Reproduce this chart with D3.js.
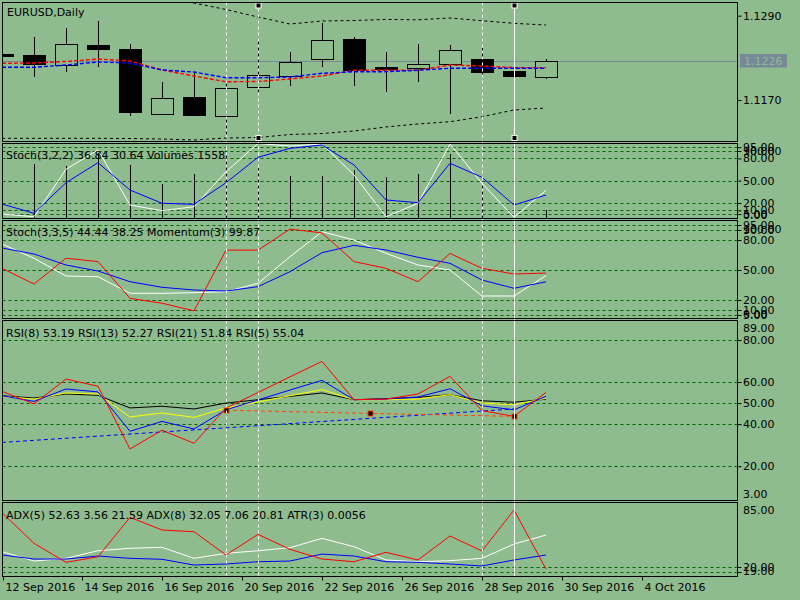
<!DOCTYPE html>
<html>
<head>
<meta charset="utf-8">
<script src="https://cdn.jsdelivr.net/npm/d3@7/dist/d3.min.js"></script>
<style>
  body { margin: 0; background: #8fbc8f; }
  svg text { font-family: "DejaVu Sans", sans-serif; font-size: 11px; }
</style>
</head>
<body>
<svg width="800" height="600"></svg>
<script>
// ---- EURUSD daily candles (one entry per bar) ----
const opens = [1.1236, 1.1234, 1.12194, 1.12483, 1.12426, 1.11505, 1.11743, 1.11477, 1.11881, 1.12046, 1.12273, 1.12568, 1.1217, 1.12145, 1.12202, 1.12283, 1.12117, 1.12032];
const highs = [1.1236, 1.12601, 1.12725, 1.12824, 1.12497, 1.11956, 1.12098, 1.11946, 1.1254, 1.12383, 1.12796, 1.12596, 1.12383, 1.12501, 1.12483, 1.12436, 1.12383, 1.12279];
const lows = [1.1233, 1.12032, 1.12103, 1.12174, 1.11477, 1.11491, 1.11472, 1.11178, 1.11818, 1.11899, 1.12174, 1.11899, 1.11814, 1.1196, 1.11505, 1.12056, 1.11377, 1.11999];
const closes = [1.1233, 1.12208, 1.12497, 1.1243, 1.11534, 1.11728, 1.11491, 1.11871, 1.12051, 1.12241, 1.1255, 1.12127, 1.12145, 1.12208, 1.12407, 1.12103, 1.12042, 1.1226];

// bands and moving averages on the price chart
const bbUpper = [1.1335, 1.1332, 1.1328, 1.1324, 1.1319, 1.1314, 1.1308, 1.12988, 1.12881, 1.12781, 1.12824, 1.12831, 1.12846, 1.12841, 1.12867, 1.12828, 1.12791, 1.12767];
const bbLower = [1.11155, 1.11155, 1.11155, 1.11155, 1.11152, 1.11145, 1.11131, 1.11159, 1.11166, 1.11209, 1.11223, 1.11259, 1.11316, 1.11359, 1.11391, 1.11462, 1.11558, 1.11586];
const maRed = [1.12222, 1.12227, 1.12248, 1.12283, 1.12255, 1.12127, 1.12042, 1.1196, 1.11963, 1.11999, 1.12042, 1.12123, 1.12123, 1.12123, 1.12198, 1.12184, 1.12161, 1.12161];
const maBlue = [1.12165, 1.12165, 1.12198, 1.12241, 1.12227, 1.12127, 1.12098, 1.12017, 1.12017, 1.12027, 1.1208, 1.12103, 1.12103, 1.12123, 1.12151, 1.12151, 1.12151, 1.12151];
const priceTicks = [1.1290, 1.1170];
const lastPrice = 1.1226;

// Stoch(3,2,2) + Volumes
const stochAMain = [5, 1.5, 65.3, 91.3, 17.2, 9.6, 14.9, 62, 100, 96.6, 99.3, 57.6, 1.5, 19.5, 99.3, 46.4, 0.7, 36.84];
const stochASignal = [18.6, 6.1, 47.2, 74.2, 37.4, 19.5, 18.2, 47.2, 81.4, 93.5, 98, 71.1, 24, 20.3, 73.4, 54.5, 17.2, 30.64];
const volumes = [8800, 9700, 9350, 11600, 9520, 6160, 7930, 11290, 8940, 7580, 7580, 8640, 7350, 7930, 11470, 6280, 10410, 1558];

// Stoch(3,3,5) + Momentum(3)
const stochBMain = [76, 61.7, 44, 43.3, 26.7, 26.7, 27.3, 28.3, 36.7, 63.3, 88.3, 80, 66.7, 55, 50, 24, 24, 44.44];
const stochBSignal = [72, 66, 55, 49, 38.3, 32.7, 30, 29, 33.3, 48.3, 67.3, 74.7, 70, 62.7, 56.7, 40, 31.7, 38.25];
const momentum = [99.97, 99.64, 100.18, 100.11, 99.34, 99.24, 99.08, 100.35, 100.35, 100.79, 100.71, 100.11, 99.97, 99.69, 100.28, 99.97, 99.85, 99.87];
const stochLevels = [95, 90, 80, 50, 20, 10, 5];

// RSI(8), RSI(13), RSI(21), RSI(5)
const rsi8 = [53.5, 50.8, 56.7, 55.3, 36.6, 41.3, 37.7, 46.8, 51.5, 56.2, 60.8, 51.6, 51.9, 52.9, 56.8, 48.7, 46.8, 53.19];
const rsi13 = [53.2, 51.9, 54.8, 54.3, 43.4, 45.3, 43.2, 47.7, 50.5, 53.5, 56.4, 51.6, 51.6, 51.9, 54, 50, 49.2, 52.27];
const rsi21 = [53.5, 52.4, 54.3, 53.7, 47.7, 48.5, 47.2, 50, 51.6, 53.2, 54.8, 51.6, 52.1, 52.7, 54, 51.1, 50.4, 51.84];
const rsi5 = [55.6, 49.6, 61.4, 58, 28.2, 37.1, 30.9, 47.7, 55, 62.5, 69.8, 51.6, 51.9, 54.3, 62.7, 46.4, 43.7, 55.04];
const rsiLevels = [80, 60, 50, 40, 20];

// ADX panel lines
const adxRed = [81.9, 46.8, 25, 31.4, 76.6, 62.1, 60.1, 33.4, 57.1, 39.9, 28.8, 25.7, 36.5, 27.7, 55.2, 38, 85, 17.3];
const adxWhite = [37.2, 26.5, 29.6, 38.3, 41.1, 42.2, 29.6, 35.3, 38.3, 41.8, 52.5, 42.9, 27.7, 25.7, 26.9, 29.6, 46, 56.3];
const adxBlue = [33.4, 28.8, 28.8, 32.2, 29.6, 28.5, 21.9, 23.1, 25.7, 26.5, 34.5, 32.2, 25.7, 25, 23.1, 20.8, 27.7, 33.4];
const adxLevels = [20, 14.3];

// time axis labels (bar index where each label sits)
const dateTickIdx = [0.03, 2.5, 5, 7.5, 10, 12.5, 15, 17.5, 20];
const dateTickLabels = ['12 Sep 2016', '14 Sep 2016', '16 Sep 2016', '20 Sep 2016', '22 Sep 2016', '26 Sep 2016', '28 Sep 2016', '30 Sep 2016', '4 Oct 2016'];

// drawn objects: vertical lines and trend lines
const vLines = [{ i: 7, dash: true }, { i: 8, dash: true, marks: true }, { i: 15, dash: true }, { i: 16, dash: false, marks: true }];
const rsiTrendBlue = [{ i: 0, v: 31.3 }, { i: 16, v: 47.2 }];
const rsiTrendRed = [{ i: 7, v: 46.6 }, { i: 11.5, v: 45.1 }, { i: 16, v: 43.7 }];

const BG = '#8fbc8f';
const LEVEL = '#006400';
const left = 2.5;
const right = 737.5;
const svg = d3.select('svg');

svg.append('rect').attr('width', 800).attr('height', 600).attr('fill', BG);

const x = d3.scaleLinear().domain([0, 23]).range([2, 738]);

const panels = {
  main: { top: 2.5, bottom: 141.5 },
  stochA: { top: 143.5, bottom: 218.5 },
  stochB: { top: 220.5, bottom: 318.5 },
  rsi: { top: 320.5, bottom: 500.5 },
  adx: { top: 502.5, bottom: 576.5 },
};

const yPrice = d3.scaleLinear().domain([1.1170, 1.1290]).range([100, 15.67]);
const yStochA = d3.scaleLinear().domain([0, 100]).range([217.8, 143.5]);
const yVolume = d3.scaleLinear().domain([0, 13330]).range([218.8, 143.5]);
const yStochB = d3.scaleLinear().domain([0, 100]).range([320, 220]);
const yMomentum = d3.scaleLinear().domain([98.93, 100.98]).range([318, 220]);
const yRsi = d3.scaleLinear().domain([3, 89]).range([502, 321]);
const yAdx = d3.scaleLinear().domain([20, 85]).range([566.7, 510]);

const defs = svg.append('defs');
Object.entries(panels).forEach(([key, p]) => {
  defs.append('clipPath').attr('id', `clip-${key}`)
    .append('rect')
    .attr('x', left + 0.5)
    .attr('y', p.top + 0.5)
    .attr('width', right - left - 1)
    .attr('height', p.bottom - p.top - 1);
});

const layer = key => svg.append('g').attr('clip-path', `url(#clip-${key})`);

// dashed horizontal level lines
function drawLevels(g, y, levels) {
  g.selectAll(null)
    .data(levels)
    .enter()
    .append('line')
    .attr('x1', left)
    .attr('x2', right)
    .attr('y1', d => Math.round(y(d)) + 0.5)
    .attr('y2', d => Math.round(y(d)) + 0.5)
    .attr('stroke', LEVEL)
    .attr('stroke-dasharray', '3,3');
}

function drawLine(g, values, y, color, dash, width) {
  const line = d3.line().x((d, i) => x(i)).y(d => y(d));
  g.append('path')
    .datum(values)
    .attr('d', line)
    .attr('fill', 'none')
    .attr('stroke', color)
    .attr('stroke-width', width || 1)
    .attr('stroke-dasharray', dash || null);
}

// right hand price / value scale
function drawAxis(y, values, fmt) {
  const g = svg.append('g')
    .attr('transform', `translate(${right},0)`)
    .call(d3.axisRight(y).tickValues(values).tickSize(4).tickFormat(fmt));
  g.select('.domain').remove();
  g.attr('font-family', null).attr('font-size', null);
  g.selectAll('line').attr('stroke', '#000');
  g.selectAll('text').attr('x', 5.5).attr('fill', '#000');
  return g;
}

function extraLabel(txt, yPos) {
  svg.append('text')
    .attr('x', right + 5.5)
    .attr('y', yPos)
    .attr('dy', '0.35em')
    .attr('fill', '#000')
    .text(txt);
}

function legend(txt, yPos, xPos) {
  svg.append('text').attr('x', xPos || 6).attr('y', yPos).attr('fill', '#000').text(txt);
}

// ---------- main price chart ----------
const gMain = layer('main');

gMain.append('line')
  .attr('x1', left).attr('x2', right)
  .attr('y1', Math.round(yPrice(lastPrice)) + 0.5)
  .attr('y2', Math.round(yPrice(lastPrice)) + 0.5)
  .attr('stroke', '#778899');

const candles = gMain.selectAll('.candle')
  .data(opens.map((o, i) => ({ i, o, h: highs[i], l: lows[i], c: closes[i] })))
  .enter()
  .append('g')
  .attr('class', 'candle')
  .attr('shape-rendering', 'crispEdges');

candles.append('line')
  .attr('x1', d => Math.round(x(d.i)) + 0.5)
  .attr('x2', d => Math.round(x(d.i)) + 0.5)
  .attr('y1', d => yPrice(d.h))
  .attr('y2', d => yPrice(d.l))
  .attr('stroke', '#000');

candles.append('rect')
  .attr('x', d => Math.round(x(d.i)) - 10.5)
  .attr('width', 22)
  .attr('y', d => Math.round(yPrice(Math.max(d.o, d.c))) + 0.5)
  .attr('height', d => Math.max(1, Math.round(Math.abs(yPrice(d.o) - yPrice(d.c)))))
  .attr('fill', d => (d.c >= d.o ? BG : '#000'))
  .attr('stroke', '#000');

drawLine(gMain, bbUpper, yPrice, '#000', '3,3');
drawLine(gMain, bbLower, yPrice, '#000', '3,3');
drawLine(gMain, maRed, yPrice, '#ff0000', '4,2', 1.4);
drawLine(gMain, maBlue, yPrice, '#0000ff', '4,2', 1.4);

legend('EURUSD,Daily', 16, 7);

drawAxis(yPrice, priceTicks, d3.format('.4f'));
svg.append('rect')
  .attr('x', 740).attr('y', 54)
  .attr('width', 47).attr('height', 13.5)
  .attr('fill', '#778899');
svg.append('text')
  .attr('x', 744).attr('y', yPrice(lastPrice) + 0.5)
  .attr('dy', '0.35em')
  .attr('fill', BG)
  .text(d3.format('.4f')(lastPrice));

// ---------- Stoch(3,2,2) + Volumes ----------
const gA = layer('stochA');
drawLevels(gA, yStochA, stochLevels);
gA.selectAll('.vol')
  .data(volumes)
  .enter()
  .append('line')
  .attr('class', 'vol')
  .attr('x1', (d, i) => Math.round(x(i)) + 0.5)
  .attr('x2', (d, i) => Math.round(x(i)) + 0.5)
  .attr('y1', yVolume(0))
  .attr('y2', d => yVolume(d))
  .attr('stroke', '#000');
drawLine(gA, stochAMain, yStochA, '#ffffff');
drawLine(gA, stochASignal, yStochA, '#0000ff');
legend('Stoch(3,2,2) 36.84 30.64 Volumes 1558', 159);
drawAxis(yStochA, stochLevels, d3.format('.2f'));
extraLabel('100.00', 151);
extraLabel('0.00', 215);

// ---------- Stoch(3,3,5) + Momentum(3) ----------
const gB = layer('stochB');
drawLevels(gB, yStochB, stochLevels);
drawLine(gB, stochBMain, yStochB, '#ffffff');
drawLine(gB, stochBSignal, yStochB, '#0000ff');
drawLine(gB, momentum, yMomentum, '#ff0000');
legend('Stoch(3,3,5) 44.44 38.25 Momentum(3) 99.87', 236);
drawAxis(yStochB, stochLevels, d3.format('.2f'));
extraLabel('100.00', 229);
extraLabel('0.00', 314);

// ---------- RSI ----------
const gR = layer('rsi');
drawLevels(gR, yRsi, rsiLevels);
const trendLine = d3.line().x(d => x(d.i)).y(d => yRsi(d.v));
gR.append('path')
  .datum(rsiTrendBlue)
  .attr('d', trendLine)
  .attr('fill', 'none')
  .attr('stroke', '#0000ff')
  .attr('stroke-dasharray', '4,3');
gR.append('path')
  .datum(rsiTrendRed)
  .attr('d', trendLine)
  .attr('fill', 'none')
  .attr('stroke', '#ff4500')
  .attr('stroke-dasharray', '4,3');
drawLine(gR, rsi21, yRsi, '#000000');
drawLine(gR, rsi13, yRsi, '#ffff00');
drawLine(gR, rsi8, yRsi, '#0000ff');
drawLine(gR, rsi5, yRsi, '#ff0000');
gR.selectAll('.mark')
  .data(rsiTrendRed)
  .enter()
  .append('rect')
  .attr('class', 'mark')
  .attr('x', d => Math.round(x(d.i)) - 2)
  .attr('y', d => Math.round(yRsi(d.v)) - 2)
  .attr('width', 5)
  .attr('height', 5)
  .attr('fill', '#000')
  .attr('stroke', '#ff4500');
legend('RSI(8) 53.19 RSI(13) 52.27 RSI(21) 51.84 RSI(5) 55.04', 337);
drawAxis(yRsi, rsiLevels, d3.format('.2f'));
extraLabel('89.00', 328.5);
extraLabel('3.00', 494);

// ---------- ADX / ATR ----------
const gD = layer('adx');
drawLevels(gD, yAdx, adxLevels);
drawLine(gD, adxWhite, yAdx, '#ffffff');
drawLine(gD, adxBlue, yAdx, '#0000ff');
drawLine(gD, adxRed, yAdx, '#ff0000');
legend('ADX(5) 52.63 3.56 21.59 ADX(8) 32.05 7.06 20.81 ATR(3) 0.0056', 519);
extraLabel('85.00', 510);
extraLabel('20.00', 566.7);
extraLabel('19.00', 571.5);
svg.selectAll('.adxTick')
  .data(adxLevels)
  .enter()
  .append('line')
  .attr('x1', right).attr('x2', right + 4)
  .attr('y1', d => Math.round(yAdx(d)) + 0.5)
  .attr('y2', d => Math.round(yAdx(d)) + 0.5)
  .attr('stroke', '#000');

// ---------- vertical line objects ----------
vLines.forEach((v) => {
  const xv = Math.round(x(v.i)) + 0.5;
  svg.append('line')
    .attr('x1', xv).attr('x2', xv)
    .attr('y1', panels.main.top).attr('y2', panels.adx.bottom)
    .attr('stroke', '#ffffff')
    .attr('stroke-dasharray', v.dash ? '3,3' : null);
  if (v.marks) {
    [5.5, 138].forEach((ym) => {
      svg.append('rect')
        .attr('x', xv - 2.5).attr('y', ym - 2.5)
        .attr('width', 5).attr('height', 5)
        .attr('fill', '#000')
        .attr('stroke', '#ffffff');
    });
  }
});

// ---------- panel frames ----------
Object.values(panels).forEach((p) => {
  svg.append('rect')
    .attr('x', left)
    .attr('y', p.top)
    .attr('width', right - left)
    .attr('height', p.bottom - p.top)
    .attr('fill', 'none')
    .attr('stroke', '#000')
    .attr('shape-rendering', 'crispEdges');
});

// ---------- time axis ----------
const xAxis = svg.append('g')
  .attr('transform', `translate(0,${panels.adx.bottom})`)
  .call(d3.axisBottom(x)
    .tickValues(dateTickIdx)
    .tickSize(4)
    .tickFormat((d, i) => dateTickLabels[i]));
xAxis.select('.domain').remove();
xAxis.attr('font-family', null).attr('font-size', null);
xAxis.selectAll('line').attr('stroke', '#000');
xAxis.selectAll('text')
  .attr('text-anchor', 'start')
  .attr('x', 2)
  .attr('y', 7)
  .attr('fill', '#000');
</script>
</body>
</html>
